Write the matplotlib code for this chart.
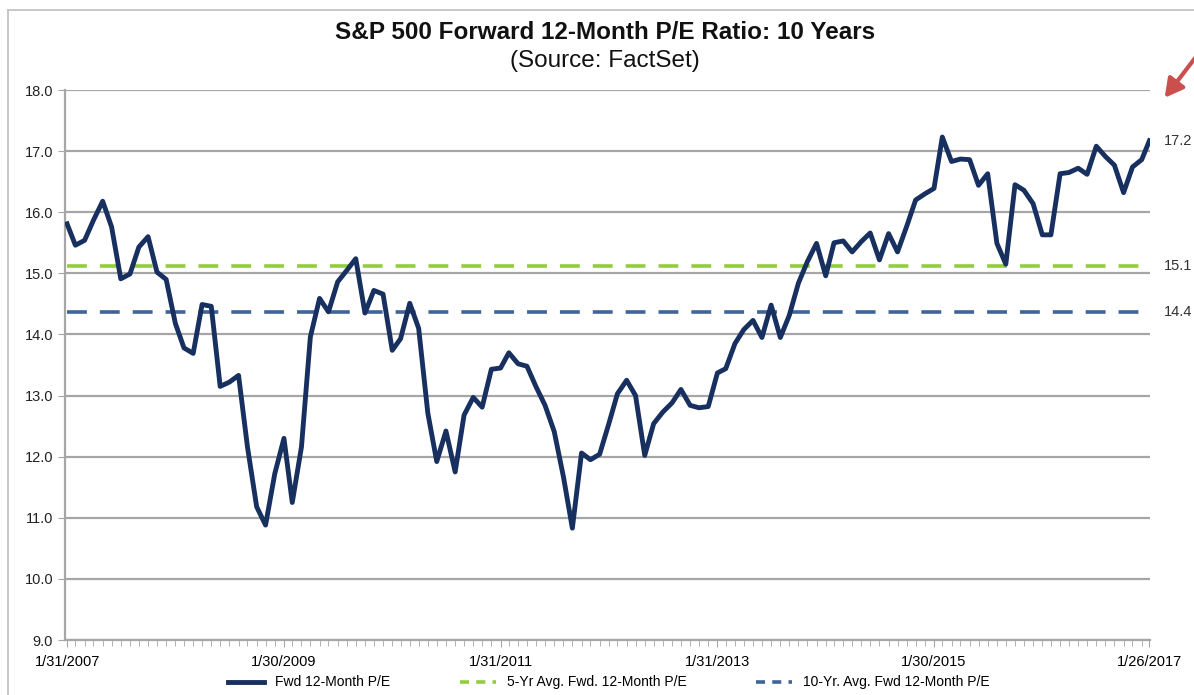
import numpy as np
import pandas as pd
import matplotlib
matplotlib.use("Agg")
import matplotlib.pyplot as plt
from matplotlib.lines import Line2D

# monthly forward P/E, 1/2007 .. 1/2017
pe_values = [
    15.81, 15.46, 15.54, 15.87, 16.18, 15.76, 14.91, 14.99, 15.43, 15.60,
    15.02, 14.90, 14.18, 13.78, 13.69, 14.49, 14.46, 13.15, 13.22, 13.33,
    12.16, 11.18, 10.88, 11.72, 12.30, 11.25, 12.16, 13.96, 14.59, 14.37,
    14.86, 15.05, 15.24, 14.35, 14.72, 14.66, 13.74, 13.93, 14.51, 14.10,
    12.71, 11.92, 12.42, 11.75, 12.68, 12.97, 12.81, 13.43, 13.45, 13.70,
    13.52, 13.48, 13.14, 12.84, 12.41, 11.67, 10.83, 12.06, 11.95, 12.04,
    12.54, 13.03, 13.25, 13.00, 12.02, 12.54, 12.73, 12.88, 13.10, 12.84,
    12.80, 12.82, 13.37, 13.44, 13.85, 14.08, 14.23, 13.95, 14.48, 13.95,
    14.31, 14.84, 15.19, 15.49, 14.96, 15.50, 15.53, 15.35, 15.52, 15.66,
    15.22, 15.65, 15.35, 15.77, 16.20, 16.30, 16.39, 17.23, 16.83, 16.87,
    16.86, 16.44, 16.63, 15.49, 15.15, 16.45, 16.36, 16.14, 15.63, 15.63,
    16.63, 16.65, 16.72, 16.62, 17.08, 16.91, 16.77, 16.32, 16.74, 16.86,
    17.17,
]
avg_5yr = 15.12
avg_10yr = 14.37
tick_labels = ["1/31/2007", "1/30/2009", "1/31/2011", "1/31/2013", "1/30/2015", "1/26/2017"]
legend_labels = ["Fwd 12-Month P/E", "5-Yr Avg. Fwd. 12-Month P/E", "10-Yr. Avg. Fwd 12-Month P/E"]

dates = list(pd.date_range("2007-01-31", periods=120, freq="ME")) + [pd.Timestamp("2017-01-26")]
tick_dates = pd.to_datetime(tick_labels, format="%m/%d/%Y")

navy = "#17305f"
green = "#92cd3c"
blue = "#3f6499"
grid_col = "#a6a6a6"

plt.rcParams["font.family"] = ["Liberation Sans", "DejaVu Sans"]

fig = plt.figure(figsize=(11.94, 6.95), dpi=100)
ax = fig.add_axes([65 / 1194, 1 - 640 / 695, 1085 / 1194, 550 / 695])

ax.plot(dates, [avg_5yr] * len(dates), color=green, lw=2.6, dashes=(5.5, 3.6), zorder=3)
ax.plot(dates, [avg_10yr] * len(dates), color=blue, lw=2.6, dashes=(5.5, 3.6), zorder=3)
ax.plot(dates, pe_values, color=navy, lw=3.5, solid_joinstyle="round", zorder=4)

ax.set_xlim(dates[0] - pd.Timedelta(days=7), dates[-1] + pd.Timedelta(days=2))
ax.set_ylim(9, 18)
ax.set_yticks(np.arange(9, 18.5, 1))
ax.yaxis.set_major_formatter(matplotlib.ticker.FormatStrFormatter("%.1f"))
ax.grid(axis="y", color=grid_col, lw=1.6)
ax.set_axisbelow(True)

ax.set_xticks(tick_dates)
ax.set_xticklabels(tick_labels)
ax.set_xticks(dates, minor=True)
ax.tick_params(axis="x", which="major", length=5, color=grid_col, labelsize=10.5, pad=6)
ax.tick_params(axis="x", which="minor", length=4, color=grid_col)
ax.tick_params(axis="y", length=5, color=grid_col, labelsize=10.5, labelcolor="#222222")

for s in ["top", "right"]:
    ax.spines[s].set_visible(False)
for s in ["left", "bottom"]:
    ax.spines[s].set_color(grid_col)
    ax.spines[s].set_linewidth(1.6)

# value labels to the right of the plot
for val, txt in [(pe_values[-1], "17.2"), (avg_5yr, "15.1"), (avg_10yr, "14.4")]:
    ax.annotate(txt, xy=(1.0, val), xycoords=("axes fraction", "data"),
                xytext=(10, 0), textcoords="offset points", va="center",
                fontsize=10.5, color="#333333")

fig.text(0.507, 0.953, "S&P 500 Forward 12-Month P/E Ratio: 10 Years",
         ha="center", va="center", fontsize=17.5, fontweight="bold", color="#111111")
fig.text(0.507, 0.912, "(Source: FactSet)", ha="center", va="center", fontsize=17.5, color="#111111")

handles = [
    Line2D([], [], color=navy, lw=3.5),
    Line2D([], [], color=green, lw=2.6, dashes=(2.5, 2)),
    Line2D([], [], color=blue, lw=2.6, dashes=(2.5, 2)),
]
fig.legend(handles, legend_labels, loc="center", bbox_to_anchor=(0.51, 0.018),
           ncol=3, frameon=False, fontsize=10, handlelength=2.6, columnspacing=5.0)

# chart border (left/top) and red arrow
fig.add_artist(Line2D([8 / 1194, 8 / 1194], [0, 1 - 10 / 695], color="#bfbfbf", lw=1.2))
fig.add_artist(Line2D([8 / 1194, 1], [1 - 10 / 695, 1 - 10 / 695], color="#bfbfbf", lw=1.2))
fig.add_artist(matplotlib.patches.FancyArrowPatch(
    (1205 / 1194, 1 - 45 / 695), (1163 / 1194, 1 - 100 / 695), transform=fig.transFigure,
    arrowstyle="-|>,head_length=11,head_width=6", color="#c9504c", lw=3))

fig.savefig("out.png", dpi=100)
